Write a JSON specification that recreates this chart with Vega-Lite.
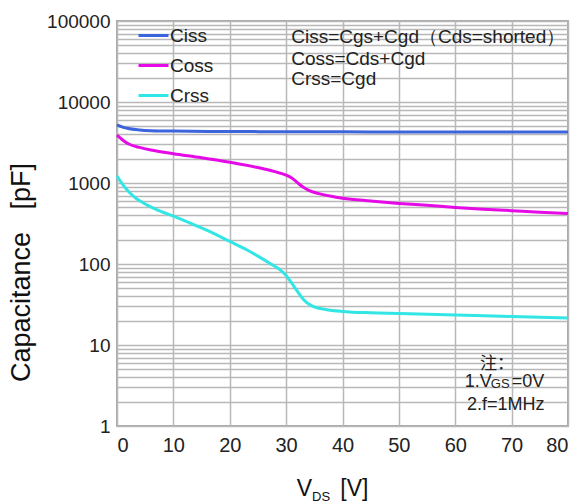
{
  "$schema": "https://vega.github.io/schema/vega-lite/v6.json",
  "width": 451,
  "height": 405,
  "autosize": {"type": "none"},
  "padding": {"left": 117, "top": 21, "right": 14, "bottom": 77},
  "background": "white",
  "config": {
    "font": "Liberation Sans",
    "view": {"stroke": "#a8a8a8", "strokeWidth": 2}
  },
  "datasets": {
    "curves": [
      {"v": 0, "c": 5200, "s": "Ciss"}, {"v": 1, "c": 4900, "s": "Ciss"}, {"v": 2, "c": 4700, "s": "Ciss"}, {"v": 4, "c": 4520, "s": "Ciss"}, {"v": 6, "c": 4430, "s": "Ciss"}, {"v": 10, "c": 4370, "s": "Ciss"}, {"v": 20, "c": 4320, "s": "Ciss"}, {"v": 30, "c": 4300, "s": "Ciss"}, {"v": 40, "c": 4280, "s": "Ciss"}, {"v": 50, "c": 4270, "s": "Ciss"}, {"v": 60, "c": 4260, "s": "Ciss"}, {"v": 70, "c": 4250, "s": "Ciss"}, {"v": 80, "c": 4250, "s": "Ciss"},
      {"v": 0, "c": 3900, "s": "Coss"}, {"v": 1, "c": 3400, "s": "Coss"}, {"v": 2, "c": 3050, "s": "Coss"}, {"v": 4, "c": 2750, "s": "Coss"}, {"v": 6, "c": 2550, "s": "Coss"}, {"v": 10, "c": 2300, "s": "Coss"}, {"v": 15, "c": 2050, "s": "Coss"}, {"v": 20, "c": 1800, "s": "Coss"}, {"v": 25, "c": 1550, "s": "Coss"}, {"v": 28, "c": 1380, "s": "Coss"}, {"v": 30, "c": 1250, "s": "Coss"}, {"v": 31, "c": 1150, "s": "Coss"}, {"v": 32, "c": 1010, "s": "Coss"}, {"v": 33, "c": 890, "s": "Coss"}, {"v": 34, "c": 810, "s": "Coss"}, {"v": 36, "c": 735, "s": "Coss"}, {"v": 38, "c": 685, "s": "Coss"}, {"v": 40, "c": 650, "s": "Coss"}, {"v": 45, "c": 600, "s": "Coss"}, {"v": 50, "c": 560, "s": "Coss"}, {"v": 55, "c": 530, "s": "Coss"}, {"v": 60, "c": 500, "s": "Coss"}, {"v": 65, "c": 475, "s": "Coss"}, {"v": 70, "c": 455, "s": "Coss"}, {"v": 75, "c": 435, "s": "Coss"}, {"v": 80, "c": 420, "s": "Coss"},
      {"v": 0, "c": 1220, "s": "Crss"}, {"v": 1, "c": 960, "s": "Crss"}, {"v": 2, "c": 790, "s": "Crss"}, {"v": 3, "c": 680, "s": "Crss"}, {"v": 5, "c": 550, "s": "Crss"}, {"v": 7, "c": 470, "s": "Crss"}, {"v": 10, "c": 390, "s": "Crss"}, {"v": 13, "c": 320, "s": "Crss"}, {"v": 16, "c": 260, "s": "Crss"}, {"v": 20, "c": 190, "s": "Crss"}, {"v": 23, "c": 150, "s": "Crss"}, {"v": 25, "c": 125, "s": "Crss"}, {"v": 27, "c": 103, "s": "Crss"}, {"v": 29, "c": 84, "s": "Crss"}, {"v": 30, "c": 72, "s": "Crss"}, {"v": 31, "c": 58, "s": "Crss"}, {"v": 32, "c": 46, "s": "Crss"}, {"v": 33, "c": 37, "s": "Crss"}, {"v": 34, "c": 32, "s": "Crss"}, {"v": 35, "c": 29.5, "s": "Crss"}, {"v": 37, "c": 27.5, "s": "Crss"}, {"v": 40, "c": 26, "s": "Crss"}, {"v": 45, "c": 25, "s": "Crss"}, {"v": 50, "c": 24.5, "s": "Crss"}, {"v": 60, "c": 23.5, "s": "Crss"}, {"v": 70, "c": 22.5, "s": "Crss"}, {"v": 80, "c": 21.5, "s": "Crss"}
    ],
    "labels": [
      {"x": 30.9, "y": 53500, "t": "Ciss=Cgs+Cgd（Cds=shorted）", "g": "note"},
      {"x": 30.9, "y": 28640, "t": "Coss=Cds+Cgd", "g": "note"},
      {"x": 30.9, "y": 16220, "t": "Crss=Cgd", "g": "note"},
      {"x": 64.4, "y": 5.06, "t": "注：", "g": "cjk"},
      {"x": 61.7, "y": 3.03, "t": "1.V", "g": "note2"},
      {"x": 66.3, "y": 2.95, "t": "GS", "g": "sub"},
      {"x": 70.0, "y": 3.03, "t": "=0V", "g": "note2"},
      {"x": 62.1, "y": 1.576, "t": "2.f=1MHz", "g": "note2"},
      {"x": 31.9, "y": 0.135, "t": "V", "g": "axis"},
      {"x": 34.6, "y": 0.119, "t": "DS", "g": "axissub"},
      {"x": 39.6, "y": 0.135, "t": "[V]", "g": "axis"}
    ]
  },
  "layer": [
    {
      "data": {"name": "curves"},
      "mark": {"type": "line", "strokeWidth": 3, "interpolate": "monotone"},
      "encoding": {
        "x": {
          "field": "v", "type": "quantitative",
          "scale": {"domain": [0, 80], "nice": false},
          "axis": {
            "values": [0, 10, 20, 30, 40, 50, 60, 70, 80],
            "title": null,
            "grid": true, "gridColor": "#b8b8b8", "gridWidth": 1.5,
            "domain": false, "ticks": false,
            "labelFontSize": 20, "labelColor": "#222", "labelPadding": 9
          }
        },
        "y": {
          "field": "c", "type": "quantitative",
          "scale": {"type": "log", "domain": [1, 100000], "nice": false},
          "axis": {
            "values": [1,2,3,4,5,6,7,8,9,10,20,30,40,50,60,70,80,90,100,200,300,400,500,600,700,800,900,1000,2000,3000,4000,5000,6000,7000,8000,9000,10000,20000,30000,40000,50000,60000,70000,80000,90000,100000],
            "format": "d",
            "labelExpr": "indexof(['1','10','100','1000','10000','100000'], datum.label) >= 0 ? datum.label : ''",
            "title": "Capacitance\u00a0\u00a0\u00a0[pF]",
            "titleFontSize": 27, "titleFontWeight": "normal", "titleColor": "#111",
            "titleX": -96, "titleY": 251, "titleAngle": -90,
            "titleAlign": "center", "titleBaseline": "middle",
            "grid": true, "gridColor": "#b8b8b8", "gridWidth": 1.5,
            "domain": false, "ticks": false,
            "labelFontSize": 19, "labelColor": "#222", "labelPadding": 7, "labelOverlap": false
          }
        },
        "color": {
          "field": "s", "type": "nominal",
          "scale": {"domain": ["Ciss", "Coss", "Crss"], "range": ["#3c64dc", "#e60ae6", "#32e6e6"]},
          "legend": {
            "title": null, "orient": "none", "legendX": 20, "legendY": -2,
            "symbolType": "stroke", "symbolSize": 900, "symbolStrokeWidth": 3,
            "labelFontSize": 19, "labelColor": "#222", "labelOffset": 0,
            "rowPadding": 3, "padding": 0
          }
        }
      }
    },
    {
      "data": {"name": "labels"},
      "transform": [{"filter": "datum.g == 'note'"}],
      "mark": {"type": "text", "align": "left", "baseline": "alphabetic", "fontSize": 19, "color": "#222"},
      "encoding": {"x": {"field": "x", "type": "quantitative"}, "y": {"field": "y", "type": "quantitative"}, "text": {"field": "t"}}
    },
    {
      "data": {"name": "labels"},
      "transform": [{"filter": "datum.g == 'note2'"}],
      "mark": {"type": "text", "align": "left", "baseline": "alphabetic", "fontSize": 18, "color": "#222"},
      "encoding": {"x": {"field": "x", "type": "quantitative"}, "y": {"field": "y", "type": "quantitative"}, "text": {"field": "t"}}
    },
    {
      "data": {"name": "labels"},
      "transform": [{"filter": "datum.g == 'sub'"}],
      "mark": {"type": "text", "align": "left", "baseline": "alphabetic", "fontSize": 13, "color": "#222"},
      "encoding": {"x": {"field": "x", "type": "quantitative"}, "y": {"field": "y", "type": "quantitative"}, "text": {"field": "t"}}
    },
    {
      "data": {"name": "labels"},
      "transform": [{"filter": "datum.g == 'cjk'"}],
      "mark": {"type": "text", "align": "left", "baseline": "alphabetic", "fontSize": 17, "color": "#222", "font": "Noto Sans CJK SC"},
      "encoding": {"x": {"field": "x", "type": "quantitative"}, "y": {"field": "y", "type": "quantitative"}, "text": {"field": "t"}}
    },
    {
      "data": {"name": "labels"},
      "transform": [{"filter": "datum.g == 'axis'"}],
      "mark": {"type": "text", "align": "left", "baseline": "alphabetic", "fontSize": 23, "color": "#111"},
      "encoding": {"x": {"field": "x", "type": "quantitative"}, "y": {"field": "y", "type": "quantitative"}, "text": {"field": "t"}}
    },
    {
      "data": {"name": "labels"},
      "transform": [{"filter": "datum.g == 'axissub'"}],
      "mark": {"type": "text", "align": "left", "baseline": "alphabetic", "fontSize": 13, "color": "#111"},
      "encoding": {"x": {"field": "x", "type": "quantitative"}, "y": {"field": "y", "type": "quantitative"}, "text": {"field": "t"}}
    }
  ]
}
